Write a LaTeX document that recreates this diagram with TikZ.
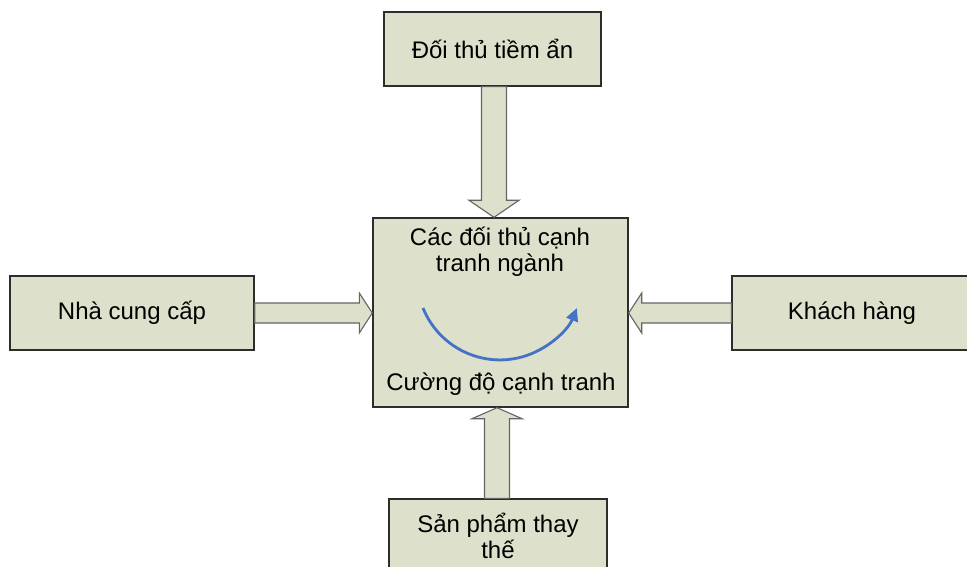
\documentclass[tikz,border=0pt]{standalone}
\usepackage{fontspec}
\setmainfont{Liberation Sans}
\usetikzlibrary{calc,arrows.meta}

\definecolor{boxfill}{RGB}{221,224,203}
\definecolor{boxline}{RGB}{45,45,45}
\definecolor{arrline}{RGB}{100,100,100}
\definecolor{cycleblue}{RGB}{68,114,196}

\tikzset{
  force/.style={draw=boxline, fill=boxfill, line width=1.4pt, inner sep=0pt,
    align=center, font=\fontsize{24}{26}\selectfont},
  label text/.style={inner sep=0pt, align=center, font=\fontsize{24}{26}\selectfont},
  blk/.style={draw=arrline, fill=boxfill, line width=1.1pt, line join=miter},
  cycle arrow/.style={draw=cycleblue, line width=2.8pt,
    -{Triangle[length=13pt,width=12pt]}},
}

\begin{document}
\begin{tikzpicture}[x=1pt, y=-1pt]
  \useasboundingbox (0,0) rectangle (967,567);
  \clip (0,0) rectangle (967,567);

  % the five forces
  \node[force, minimum width=217pt, minimum height=74pt] (entrant) at (492.5,49) {Đối thủ tiềm ẩn};
  \node[force, minimum width=244pt, minimum height=74pt] (supplier) at (132,313) {Nhà cung cấp};
  \node[force, minimum width=240pt, minimum height=74pt] (buyer) at (852,313) {Khách hàng};
  \node[force, minimum width=218pt, minimum height=74pt] (substitute) at (498,536) {Sản phẩm thay\\thế};
  \node[force, minimum width=255pt, minimum height=189pt] (rivalry) at (500.5,312.5) {};

  % texts inside the rivalry box
  \node[label text] (rivaltitle) at (500,252) {Các đối thủ cạnh\\tranh ngành};
  \node[label text] (intensity) at (501,384) {Cường độ cạnh tranh};

  % block arrows towards the rivalry box
  \coordinate (tTail) at (entrant.south -| 494,0);
  \coordinate (tTip)  at (rivalry.north -| 494,0);
  \path[blk] ($(tTail)+(-12.5,0)$) -- ($(tTip)+(-12.5,-17)$) -- ($(tTip)+(-25,-17)$)
    -- (tTip) -- ($(tTip)+(25,-17)$) -- ($(tTip)+(12.5,-17)$) -- ($(tTail)+(12.5,0)$) -- cycle;

  \coordinate (bTail) at (substitute.north -| 497,0);
  \coordinate (bTip)  at (rivalry.south -| 497,0);
  \path[blk] ($(bTail)+(-12.5,0)$) -- ($(bTip)+(-12.5,11)$) -- ($(bTip)+(-25,11)$)
    -- (bTip) -- ($(bTip)+(25,11)$) -- ($(bTip)+(12.5,11)$) -- ($(bTail)+(12.5,0)$) -- cycle;

  \coordinate (lTail) at (supplier.east);
  \coordinate (lTip)  at (rivalry.west |- supplier.east);
  \path[blk] ($(lTail)+(0,-10)$) -- ($(lTip)+(-13,-10)$) -- ($(lTip)+(-13,-20)$)
    -- (lTip) -- ($(lTip)+(-13,20)$) -- ($(lTip)+(-13,10)$) -- ($(lTail)+(0,10)$) -- cycle;

  \coordinate (rTail) at (buyer.west);
  \coordinate (rTip)  at (rivalry.east |- buyer.west);
  \path[blk] ($(rTail)+(0,-10)$) -- ($(rTip)+(13,-10)$) -- ($(rTip)+(13,-20)$)
    -- (rTip) -- ($(rTip)+(13,20)$) -- ($(rTip)+(13,10)$) -- ($(rTail)+(0,10)$) -- cycle;

  % rivalry cycle arrow
  \coordinate (cycleStart) at (423,308);
  \draw[cycle arrow] (cycleStart) arc[start angle=202, end angle=338, radius=83pt];
\end{tikzpicture}
\end{document}
